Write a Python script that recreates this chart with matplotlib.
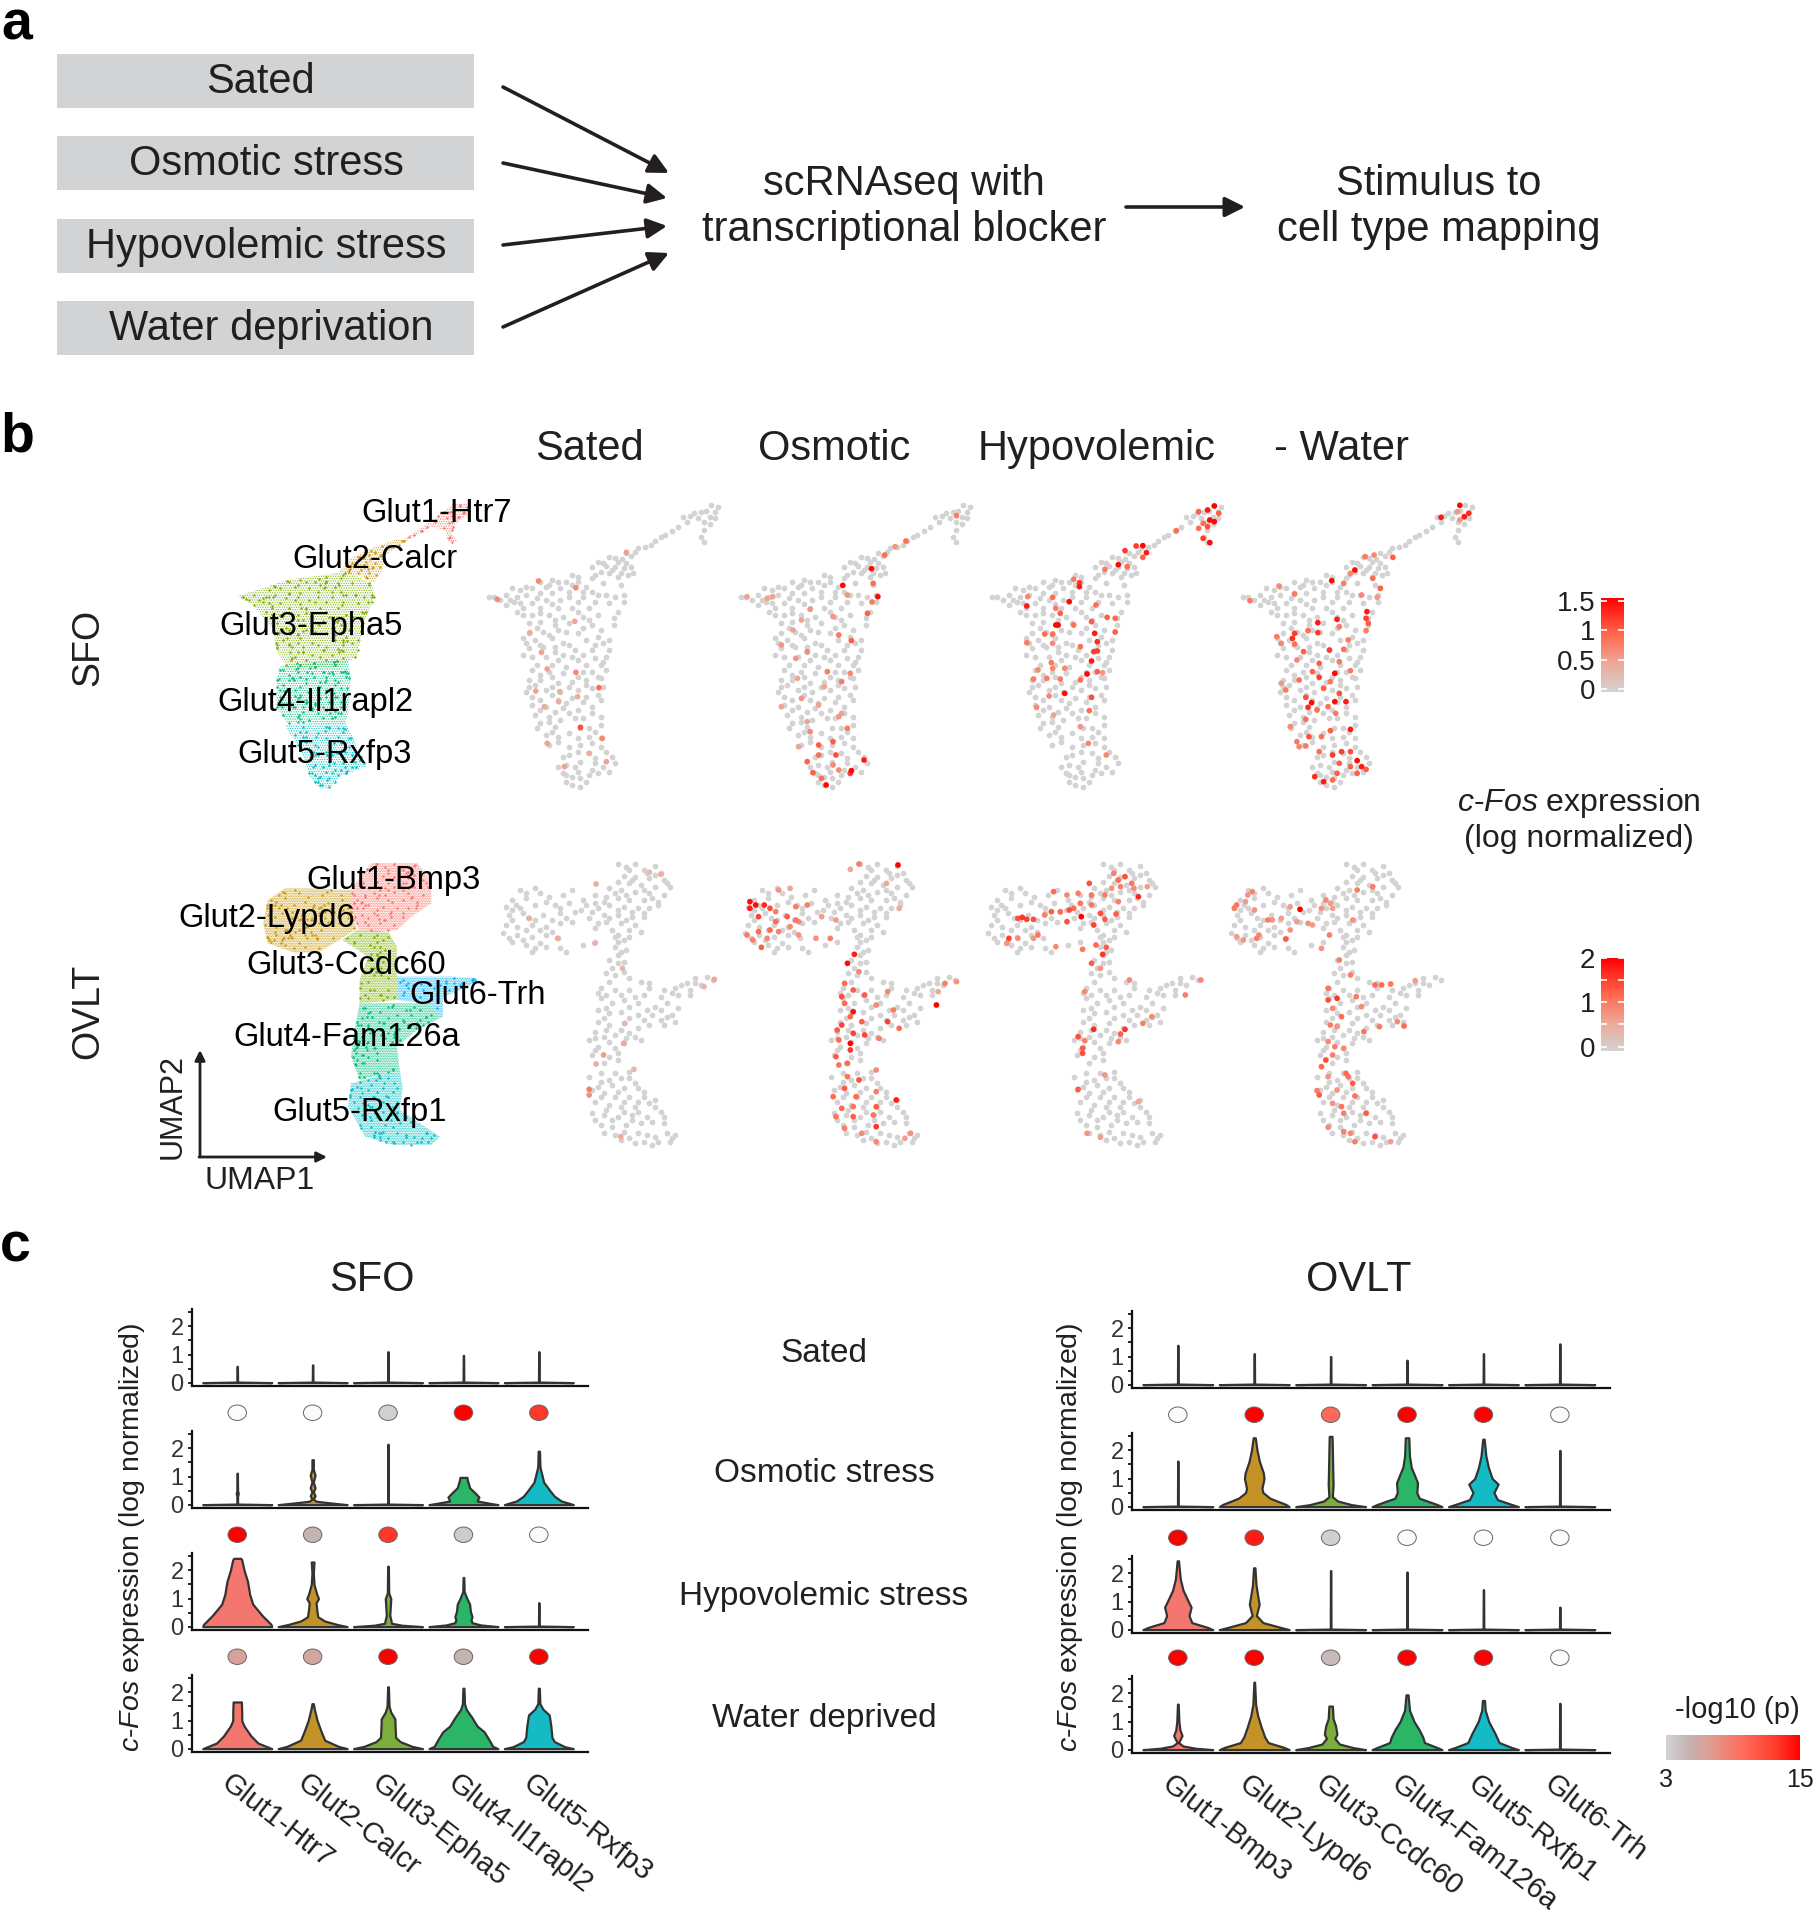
import numpy as np
import matplotlib
matplotlib.use('Agg')
from matplotlib import pyplot as plt
from matplotlib.cm import ScalarMappable
from matplotlib.colors import LinearSegmentedColormap, Normalize
from matplotlib.patches import Ellipse, Polygon, Rectangle
from matplotlib.path import Path

plt.rcParams['font.family'] = 'Liberation Sans'
plt.rcParams['mathtext.fontset'] = 'custom'
plt.rcParams['mathtext.it'] = 'Liberation Sans:italic'
plt.rcParams['mathtext.rm'] = 'Liberation Sans'
plt.rcParams['hatch.linewidth'] = 0.45

W, H = 1816, 1920
TXT = '#231f20'
FOS = '$\\mathit{c}$-$\\mathit{Fos}$'

# panel a
stimuli = ['Sated', 'Osmotic stress', 'Hypovolemic stress', 'Water deprivation']
stimulus_y = [54, 136, 219, 301]

# panel b, cluster names
sfo_clusters = ['Glut1-Htr7', 'Glut2-Calcr', 'Glut3-Epha5', 'Glut4-Il1rapl2', 'Glut5-Rxfp3']
ovlt_clusters = ['Glut1-Bmp3', 'Glut2-Lypd6', 'Glut3-Ccdc60', 'Glut4-Fam126a', 'Glut5-Rxfp1', 'Glut6-Trh']
cluster_colors = ['#f8766d', '#c99a10', '#7cae00', '#00bf7d', '#00bfc4', '#00b0f6']
violin_colors = ['#f4776f', '#c49327', '#7cae3c', '#2bb567', '#14bbc5', '#00b0f6']

# cluster outlines
sfo_outline = [
    [(440,180),(470,145),(500,110),(530,70),(555,72),(555,100),(535,130),(525,160),(537,187),(518,185),(515,150),(490,140),(455,175)],
    [(330,275),(345,240),(385,205),(430,178),(450,180),(410,225),(405,270),(390,310),(370,290)],
    [(152,348),(240,300),(320,280),(345,275),(385,310),(392,345),(375,420),(360,530),(330,560),(240,565),(220,510),(215,450),(180,375)],
    [(225,560),(290,545),(345,540),(350,590),(345,700),(340,730),(240,730),(220,680),(222,600)],
    [(235,735),(340,725),(355,780),(375,860),(330,890),(315,925),(295,925),(278,890),(265,820)],
]
ovlt_outline = [
    [(385,150),(420,70),(500,70),(525,120),(525,190),(490,230),(465,270),(430,275),(400,270),(385,220)],
    [(240,180),(270,145),(310,145),(385,150),(385,220),(395,265),(365,300),(330,335),(290,340),(240,310),(232,250)],
    [(370,300),(395,270),(450,275),(465,320),(465,400),(465,480),(400,490),(400,420),(415,350)],
    [(400,490),(520,490),(545,530),(500,570),(465,620),(470,690),(400,720),(385,650),(390,580)],
    [(385,730),(470,690),(475,740),(470,810),(540,890),(525,915),(460,915),(410,890),(380,800)],
    [(465,410),(560,410),(605,415),(590,440),(545,470),(545,530),(520,490),(465,480)],
]

# cells, in the Sated panel's frame
sfo_cells = [
    (978,75),(990,80),(968,92),(985,95),(948,100),(940,108),(975,110),(928,112),(985,115),(965,125),(975,132),(920,140),
    (910,152),(965,150),(898,165),(960,172),(965,185),(880,182),(872,195),(850,205),(830,220),(838,228),(800,232),(780,245),
    (815,245),(830,250),(770,262),(795,258),(810,262),(825,265),(838,262),(785,275),(800,280),(820,280),(832,285),(842,278),
    (700,300),(735,285),(745,290),(725,305),(745,305),(770,295),(680,305),(655,320),(630,325),(645,330),(665,325),(690,320),
    (715,325),(760,320),(790,310),(820,315),(600,350),(620,345),(640,350),(655,345),(680,340),(700,340),(730,335),(770,335),
    (780,345),(825,345),(810,350),(590,352),(635,365),(665,370),(690,360),(715,360),(745,365),(775,365),(800,370),(825,365),
    (620,375),(650,385),(680,385),(710,385),(735,385),(765,385),(815,395),(640,395),(665,405),(695,405),(720,410),(755,410),
    (808,415),(660,430),(680,425),(705,435),(730,430),(770,435),(808,435),(660,460),(685,455),(710,450),(745,460),(780,470),
    (650,475),(670,480),(700,475),(720,490),(760,480),(790,490),(800,480),(660,505),(685,500),(705,500),(740,510),(770,510),
    (800,510),(665,530),(690,530),(720,525),(745,540),(775,535),(795,530),(675,555),(700,555),(725,560),(760,555),(785,555),
    (695,575),(720,580),(745,590),(770,575),(795,570),(660,600),(680,600),(710,610),(735,605),(760,600),(785,595),(660,620),
    (690,630),(715,635),(745,630),(770,625),(790,620),(665,650),(680,660),(710,660),(735,655),(760,650),(780,645),(665,675),
    (690,680),(720,685),(745,690),(770,680),(670,705),(695,710),(730,700),(755,715),(785,710),(680,730),(705,740),(730,760),
    (750,745),(785,735),(690,765),(710,770),(765,770),(785,775),(695,795),(730,800),(770,790),(745,815),(720,830),(765,820),
    (795,815),(805,830),(725,855),(750,845),(775,850),(810,850),(720,880),(745,875),(770,870),(800,875),(725,905),(750,895),
    (750,920),(735,915),(765,885),
    (960,95),(955,115),(935,125),(890,172),(862,200),(845,215),(810,235),(822,238),(790,250),(805,270),(775,285),(815,292),
    (695,315),(710,305),(735,315),(755,335),(610,360),(628,360),(645,368),(675,355),(700,372),(730,350),(755,350),(795,345),
    (650,405),(680,400),(705,420),(745,395),(780,405),(765,420),(675,445),(695,465),(725,455),(755,445),(785,450),(680,495),
    (730,495),(775,495),(655,490),(650,525),(705,515),(755,525),(790,545),(665,570),(710,540),(735,530),(780,590),(700,590),
    (755,575),(680,585),(670,615),(700,620),(730,620),(760,615),(655,635),(700,645),(725,670),(755,665),(785,660),(680,690),
    (705,695),(740,715),(770,700),(695,725),(715,720),(765,745),(675,745),(700,755),(745,775),(775,755),(710,785),(750,795),
    (785,800),(730,825),(775,835),(740,860),(790,860),(710,860),(735,890),(780,880),(760,905),(725,885),
]
ovlt_cells = [
    (850,72),(880,72),(915,78),(870,90),(895,90),(925,100),(860,108),(880,110),(905,115),(930,120),(940,140),(850,125),
    (870,130),(890,135),(915,140),(835,145),(855,150),(880,155),(905,160),(930,165),(810,165),(830,170),(850,175),(870,180),
    (895,180),(920,185),(790,180),(810,190),(835,195),(860,200),(885,205),(905,205),(785,210),(805,215),(825,225),(850,225),
    (875,230),(895,230),(800,235),(830,245),(855,250),(880,255),(840,270),(870,270),(890,275),(810,265),(680,150),(705,145),
    (715,160),(665,180),(690,175),(730,170),(755,165),(770,150),(655,200),(680,205),(705,195),(740,195),(765,190),(660,225),
    (695,235),(720,225),(750,220),(775,215),(655,255),(675,260),(700,255),(725,260),(750,250),(770,245),(650,280),(675,285),
    (700,290),(725,285),(745,295),(665,305),(690,315),(715,310),(700,335),(760,335),(790,315),(810,305),(850,285),(860,300),
    (845,320),(865,330),(850,345),(835,360),(860,365),(840,385),(860,395),(830,400),(870,415),(890,425),(905,430),(835,425),
    (820,445),(845,450),(870,450),(895,465),(925,470),(950,445),(970,430),(985,415),(1005,410),(1015,420),(995,435),(975,450),
    (955,465),(935,490),(820,475),(840,490),(860,480),(885,490),(915,500),(955,505),(815,510),(835,520),(855,515),(885,525),
    (910,525),(935,530),(950,545),(930,555),(815,545),(835,555),(860,550),(885,565),(905,555),(810,575),(825,590),(845,585),
    (870,580),(890,600),(800,600),(815,620),(845,625),(860,610),(805,645),(835,650),(825,670),(850,660),(870,695),(855,715),
    (880,730),(800,710),(820,725),(840,735),(860,745),(885,745),(805,750),(825,760),(845,770),(870,770),(895,770),(915,780),
    (810,785),(835,795),(855,800),(880,800),(905,790),(925,815),(805,820),(825,825),(850,830),(875,825),(900,830),(930,830),
    (820,855),(840,860),(865,855),(890,850),(825,880),(845,885),(870,895),(895,905),(920,905),(945,895),(935,880),(950,885),
    (910,915),(880,910),
    (865,80),(900,100),(915,105),(935,130),(875,120),(895,150),(845,160),(865,165),(910,175),(825,185),(850,210),(875,215),
    (895,220),(920,195),(815,205),(795,195),(835,235),(865,240),(815,250),(845,290),(870,290),(690,160),(672,195),(725,185),
    (750,205),(665,210),(685,220),(705,240),(735,240),(760,235),(665,240),(690,270),(715,270),(735,275),(660,295),(685,300),
    (705,325),(725,320),(750,325),(850,305),(855,335),(850,370),(845,405),(815,460),(830,465),(855,465),(880,470),(905,445),
    (930,450),(960,435),(985,430),(975,465),(945,460),(830,505),(870,500),(900,510),(925,510),(945,525),(825,535),(870,535),
    (895,540),(925,540),(830,570),(855,570),(880,590),(865,595),(810,595),(835,605),(810,630),(850,640),(820,700),(845,700),
    (870,715),(835,720),(895,755),(815,740),(850,755),(820,770),(860,785),(885,785),(830,810),(860,815),(885,815),(915,800),
    (810,840),(840,840),(875,840),(910,845),(930,850),(860,875),(885,880),(915,890),(940,905),(855,900),(900,885),
]

# cells with c-Fos signal: x, y, log normalized expression
sfo_sated = [
    (677,303,.7),(742,323,.7),(605,358,.7),(740,424,.5),(662,458,.4),(682,517,.5),(692,567,.5),(742,577,.7),(782,623,.9),
    (672,633,.5),(714,635,.4),(750,742,1.1),(788,775,.7),(692,790,.5),(765,820,.4),(722,860,.5),(795,845,.5),(687,680,.4),
    (830,217,.5),(745,650,.4),(712,665,.4),
]
sfo_osmotic = [
    (1257,266,1.5),(1207,316,1.5),(1268,350,1.5),(1244,840,1.4),(1222,872,1.5),(1178,915,1.5),(1405,107,.8),(1317,183,.9),
    (1298,200,.6),(1280,225,.9),(1260,310,.9),(1258,366,.8),(1250,400,1),(1222,482,1),(1200,465,.8),(1215,345,.6),(1150,388,.6),
    (1135,420,.5),(1120,450,.5),(1190,410,.6),(1100,495,.6),(1145,515,.7),(1125,535,.6),(1180,575,.8),(1205,605,.8),(1220,580,.7),
    (1128,595,.5),(1175,620,.5),(1135,655,.6),(1165,675,.5),(1200,710,.6),(1145,725,.5),(1215,745,.8),(1150,755,.7),(1165,795,1),
    (1190,785,1),(1165,825,.9),(1195,825,1.1),(1145,845,1),(1190,855,.7),(1155,878,1),(1220,880,1.2),(1170,895,.9),(1200,870,.7),
    (1130,800,.5),(1085,350,.5),(1040,350,.5),(1075,355,.5),(1100,680,.5),(1205,700,.5),
]
sfo_hypo = [
    (480,78,1.55),(465,90,1.4),(445,95,1),(490,100,1),(470,120,1.5),(480,125,1.5),(455,130,.9),(465,140,1.1),(445,145,.9),
    (455,175,1.2),(470,188,1.5),(395,152,.9),(320,197,1.5),(305,198,1.2),(328,218,1.4),(280,212,1.2),(320,232,1),(265,254,1.5),
    (285,260,.9),(235,268,.8),(178,308,1.2),(178,320,1.4),(165,298,.8),(155,365,1.5),(118,352,.9),(125,385,.8),(135,400,1),
    (125,435,1.5),(130,435,1.5),(165,435,.9),(205,425,1),(240,412,1),(258,415,.9),(258,456,1),(212,460,1.4),(218,485,1.3),
    (100,462,.9),(118,462,.9),(60,488,.8),(118,490,.7),(180,500,.9),(210,515,1.2),(218,513,1.2),(205,543,1.4),(115,548,.8),
    (85,570,.7),(118,565,.7),(145,565,.7),(195,582,1.5),(218,575,1),(230,578,.6),(75,597,.8),(105,595,.8),(135,597,.8),
    (180,600,.9),(205,652,1.1),(145,640,1.5),(110,648,.7),(82,682,.7),(120,705,.5),(200,692,.9),(180,740,.6),(198,790,.7),
    (238,825,.7),(60,378,1.4),(62,350,.7),(215,375,.9),
]
sfo_water = [
    (1030,76,1.5),(1050,100,1.3),(1040,110,1.4),(1025,95,.6),(988,112,1.4),(1030,120,.6),(880,232,1),(838,225,.7),(818,230,.8),
    (795,270,1.5),(785,280,.7),(835,295,.9),(743,302,1.5),(852,325,1),(770,310,.8),(810,345,.7),(845,352,.6),(660,342,.8),
    (625,318,.7),(560,362,.8),(822,395,1.4),(820,415,1.2),(755,418,1.4),(712,428,1.4),(825,430,1),(712,458,1.2),(660,460,1.2),
    (655,475,1.3),(620,470,.8),(690,452,.9),(760,440,.8),(820,452,.8),(780,480,.8),(630,490,.7),(660,492,.9),(680,515,1),
    (738,510,1.2),(770,508,.9),(715,550,1),(760,545,.8),(665,540,.7),(750,580,1.5),(700,575,1),(785,572,.8),(670,600,.9),
    (715,592,1.2),(740,605,.8),(630,610,.6),(725,625,1),(760,640,1.1),(685,652,1.1),(750,665,1.5),(775,665,1.4),(698,668,1.5),
    (735,680,.9),(690,682,1.3),(710,690,.9),(752,700,.8),(640,630,.8),(685,718,.9),(650,740,.7),(785,748,1.4),(740,752,1),
    (692,770,1.1),(665,785,.8),(720,770,.9),(685,798,.8),(715,815,.9),(745,825,1.2),(765,815,1.2),(785,815,1.1),(800,842,1.5),
    (760,850,1),(785,860,1),(810,860,1.4),(820,868,1),(755,880,1),(800,880,1),(705,890,1.3),(725,905,1.4),(745,900,.9),(670,800,.7),
]
ovlt_sated = [
    (925,103,.5),(905,97,.3),(812,132,.5),(695,235,.5),(745,295,.6),(810,310,.4),(858,385,.4),(1018,418,.6),(862,550,.4),
    (860,610,.6),(825,645,.7),(812,672,.5),(878,688,.4),(800,748,1),(800,765,.8),(855,890,.6),(1000,440,.4),
]
ovlt_osmotic = [
    (1080,185,1.9),(1090,195,1.9),(1080,205,1.8),(1105,195,1.7),(1115,205,1.4),(1095,230,1.5),(1130,150,.8),(1150,145,.6),
    (1145,230,1.3),(1160,240,1.1),(1125,215,1),(1160,200,1),(1180,195,1),(1125,245,1.2),(1115,270,1.2),(1095,275,1.2),(1075,285,1),
    (1085,300,1),(1100,322,1.3),(1130,275,1),(1150,260,.9),(1165,245,.9),(1110,295,.9),(1165,285,.8),(1205,230,.7),(1230,240,.7),
    (1195,295,.8),(1220,295,1),(1338,75,2),(1270,72,1),(1255,88,.6),(1318,130,.6),(1340,205,.5),(1250,370,1.9),(1262,343,1.8),
    (1270,395,.9),(1245,430,1.2),(1260,450,1.3),(1280,465,1.3),(1240,470,1.4),(1260,515,1.9),(1245,490,1.2),(1255,530,1.2),
    (1240,555,1.5),(1275,545,1.3),(1320,455,.9),(1300,495,.9),(1330,510,1),(1320,545,1.5),(1340,565,1.2),(1280,585,1.5),
    (1255,610,2),(1235,600,1.2),(1305,595,1),(1405,495,2),(1440,425,.8),(1420,430,1),(1408,455,.6),(1260,580,1.5),(1232,570,1.3),
    (1230,650,1.3),(1255,630,1.6),(1250,670,1.2),(1235,675,1.1),(1250,710,1.1),(1270,720,1.4),(1300,690,.9),(1245,745,1.3),
    (1225,770,1.2),(1265,770,1.2),(1300,755,1),(1335,780,1.8),(1240,805,1.2),(1260,800,1.1),(1300,800,1.3),(1230,830,1.1),
    (1260,830,1.3),(1295,825,1.1),(1245,865,1),(1300,860,1.6),(1275,880,.9),(1300,905,.9),(1360,880,.8),(1350,895,.7),
]
ovlt_hypo = [
    (255,100,1),(280,110,1.4),(265,120,1.2),(295,130,1.1),(300,145,.9),(250,145,.8),(270,140,1),(330,140,.7),(120,155,1.2),
    (200,130,1.4),(150,165,.9),(175,160,1),(205,165,1.1),(235,165,1),(265,185,1),(310,170,1.7),(180,190,1.1),(155,210,1.4),
    (135,215,1.2),(100,225,1),(115,215,1.3),(50,232,1.6),(60,238,1.5),(75,238,1.4),(40,235,1.4),(182,230,2),(165,205,1.2),
    (205,195,1.1),(225,220,1.4),(235,238,1.3),(260,222,1.3),(150,245,1.4),(210,255,1.5),(20,295,1.5),(15,310,.8),(40,295,.9),
    (85,285,1.1),(75,295,.8),(125,320,.9),(185,328,1.1),(215,315,1.2),(238,322,1.3),(230,343,1.6),(205,370,1.3),(225,385,.8),
    (290,420,.9),(190,455,.9),(210,568,1.7),(175,590,1.4),(190,602,1),(185,625,1.3),(185,640,1.4),(280,568,1.6),(270,582,1.3),
    (265,605,.9),(320,550,1),(340,530,.9),(175,748,1.3),(235,705,.8),(225,892,.7),(195,880,.8),(310,785,.6),(415,465,1),(450,420,.9),
]
ovlt_water = [
    (565,155,.9),(555,165,.8),(530,195,1.1),(525,205,1),(550,185,.7),(570,210,.8),(672,208,2),(650,200,.7),(600,240,1),(610,240,.8),
    (630,235,.7),(580,285,.9),(575,295,1),(640,297,1.3),(650,270,.8),(530,290,.7),(545,300,.8),(665,245,.7),(690,250,.8),(730,180,.9),
    (740,190,.7),(720,205,.8),(745,205,.7),(700,255,.7),(800,150,1),(835,140,1),(790,240,.8),(738,285,1),(720,325,.8),(760,360,1),
    (785,405,1),(840,435,1.2),(855,435,1.2),(875,432,1.1),(930,422,.7),(735,445,1.1),(735,480,1.4),(755,475,1.6),(745,505,.9),
    (798,470,1),(765,530,1.2),(810,500,.9),(740,555,1),(755,560,.8),(815,575,1.1),(850,560,1),(890,545,.9),(905,558,1.2),(735,605,.9),
    (750,620,1),(770,625,.9),(730,660,1.4),(720,680,1.2),(745,645,1),(735,710,.8),(780,710,1.1),(790,730,1.3),(775,700,1.2),(710,752,1),
    (715,765,1.3),(755,750,.8),(795,768,1.1),(745,790,.8),(765,800,1.1),(770,820,1),(820,820,1.3),(735,862,.9),(770,875,1),(785,880,.9),
    (795,905,1),(840,890,1.4),(875,905,.7),
]

# panel c, -log10(p) above each violin (no dot for sated)
sfo_pvals = [[1, 1, 3.2, 15, 13], [15, 5, 13, 3.5, 1], [6.5, 6, 15, 5, 15]]
ovlt_pvals = [[1, 15, 10, 15, 15, 1], [15, 14, 3.2, 1, 1, 1], [15, 15, 4.5, 15, 15, 1]]

# violin outlines: (expression, relative half width)
sfo_violins = [
    [[(0,1),(.02,.01),(.58,.005)], [(0,1),(.02,.01),(.63,.005)], [(0,1),(.02,.01),(1.1,.005)], [(0,1),(.02,.01),(.97,.005)], [(0,1),(.02,.01),(1.1,.005)]],
    [[(0,1),(.02,.01),(.3,.01),(.4,.03),(.5,.01),(1.12,.005)],
     [(0,1),(.05,.6),(.12,.1),(.2,.02),(.32,.07),(.45,.02),(.6,.07),(.8,.02),(1.05,.07),(1.25,.02),(1.6,.02)],
     [(0,1),(.02,.01),(2.15,.005)],
     [(0,1),(.05,.75),(.13,.4),(.2,.42),(.27,.45),(.4,.35),(.6,.18),(.85,.12),(.97,.1)],
     [(0,1),(.04,.9),(.13,.65),(.3,.45),(.5,.32),(.8,.14),(1.1,.08),(1.3,.04),(1.4,.03),(1.9,.02)]],
    [[(0,1),(.08,.98),(.4,.72),(.8,.45),(1.15,.36),(1.6,.3),(2.0,.2),(2.38,.13),(2.43,.1)],
     [(0,1),(.08,.7),(.2,.35),(.35,.15),(.6,.12),(.85,.1),(1,.17),(1.15,.12),(1.5,.04),(1.9,.02),(2.3,.04)],
     [(0,1),(.05,.4),(.12,.1),(.25,.08),(.4,.05),(.8,.07),(1,.08),(1.2,.02),(2.15,.01)],
     [(0,1),(.06,.5),(.14,.25),(.25,.22),(.35,.25),(.55,.2),(.8,.18),(1,.1),(1.25,.02),(1.75,.01)],
     [(0,1),(.02,.01),(.85,.005)]],
    [[(0,1),(.05,.9),(.2,.6),(.45,.4),(.8,.2),(1,.13),(1.1,.13),(1.3,.13),(1.66,.12)],
     [(0,1),(.08,.75),(.3,.35),(.6,.25),(1,.13),(1.4,.05),(1.6,.02)],
     [(0,1),(.08,.7),(.25,.35),(.4,.22),(.9,.2),(1.05,.2),(1.3,.08),(1.5,.03),(2.2,.01)],
     [(0,1),(.08,.85),(.3,.75),(.6,.6),(.8,.4),(1.1,.25),(1.4,.08),(1.6,.03),(2.15,.015)],
     [(0,1),(.07,.75),(.25,.45),(.4,.38),(.8,.35),(1.2,.3),(1.4,.12),(1.6,.03),(2.15,.015)]],
]
ovlt_violins = [
    [[(0,1),(.02,.01),(1.4,.005)], [(0,1),(.02,.01),(1.1,.005)], [(0,1),(.02,.01),(1.0,.005)], [(0,1),(.02,.01),(.87,.005)], [(0,1),(.02,.01),(1.1,.005)], [(0,1),(.02,.01),(1.45,.005)]],
    [[(0,1),(.02,.01),(1.62,.005)],
     [(0,1),(.08,.9),(.3,.45),(.5,.25),(.65,.22),(1,.28),(1.2,.26),(1.6,.15),(2,.08),(2.45,.03)],
     [(0,1),(.07,.6),(.2,.2),(.35,.05),(.8,.07),(1.3,.06),(2,.05),(2.5,.04)],
     [(0,1),(.08,.85),(.3,.35),(.5,.28),(.85,.3),(1.1,.22),(1.4,.12),(1.8,.07),(2.45,.05)],
     [(0,1),(.08,.8),(.25,.4),(.5,.3),(.8,.42),(1,.25),(1.4,.14),(1.8,.07),(2.4,.02)],
     [(0,1),(.02,.01),(2.0,.005)]],
    [[(0,1),(.08,.85),(.25,.4),(.5,.32),(.8,.38),(1.0,.3),(1.4,.15),(1.8,.07),(2.45,.02)],
     [(0,1),(.08,.75),(.25,.25),(.5,.06),(.9,.14),(1.2,.1),(1.6,.05),(2.2,.02)],
     [(0,1),(.02,.01),(2.1,.005)], [(0,1),(.02,.01),(2.05,.005)], [(0,1),(.02,.01),(1.42,.005)], [(0,1),(.02,.01),(.8,.005)]],
    [[(0,1),(.05,.5),(.13,.15),(.25,.02),(.5,.12),(.7,.06),(1,.03),(1.62,.01)],
     [(0,1),(.08,.85),(.25,.4),(.45,.3),(.8,.2),(1.2,.1),(1.6,.04),(2.4,.01)],
     [(0,1),(.07,.65),(.2,.25),(.4,.12),(.55,.18),(.85,.14),(1.1,.07),(1.55,.05)],
     [(0,1),(.08,.85),(.25,.5),(.45,.45),(.7,.35),(1.0,.2),(1.4,.07),(1.95,.03)],
     [(0,1),(.08,.8),(.25,.45),(.6,.32),(1,.15),(1.4,.05),(1.75,.03)],
     [(0,1),(.02,.01),(1.65,.005)]],
]

row_names = ['Sated', 'Osmotic stress', 'Hypovolemic stress', 'Water deprived']

expr_cmap = LinearSegmentedColormap.from_list('expr', [(0, '#d3d3d3'), (.3, '#eda898'), (.6, '#ff6a50'), (1, '#ff0000')])
p_cmap = LinearSegmentedColormap.from_list('pval', [(0, '#d2d2d2'), (.17, '#c4b2b2'), (.33, '#df9d92'), (.58, '#ff6a5a'), (.83, '#ff3a2a'), (1, '#ff0000')])
p_norm = Normalize(3, 15)


def add_px_axes(x, y, w, h):
    return fig.add_axes([x / W, 1 - (y + h) / H, w / W, h / H])


def crop_axes(x, y, w, h):
    # limits follow the reading grid used for the UMAP coordinates
    ax = add_px_axes(x, y, w, h)
    ax.set_xlim(0, 1568)
    ax.set_ylim(1020, 0)
    ax.axis('off')
    ax.patch.set_alpha(0)
    return ax


def draw_cells(ax, pts, vmax):
    pts = np.array(pts)
    order = np.argsort(pts[:, 2])
    ax.scatter(pts[order, 0], pts[order, 1], c=pts[order, 2], cmap=expr_cmap, vmin=0, vmax=vmax, s=17, linewidths=0, zorder=3)


def draw_grey(ax, pts):
    pts = np.array(pts)
    ax.scatter(pts[:, 0], pts[:, 1], c='#d3d3d3', s=17, linewidths=0, zorder=2)


def draw_clusters(ax, outlines, cells, fill_alpha, hatch):
    cells = np.array(cells)
    for poly, col in zip(outlines, cluster_colors):
        ax.add_patch(Polygon(poly, closed=True, facecolor=col, alpha=fill_alpha, lw=0))
        ax.add_patch(Polygon(poly, closed=True, facecolor='none', edgecolor=col, hatch=hatch, lw=0))
        inside = Path(poly).contains_points(cells)
        ax.scatter(cells[inside, 0], cells[inside, 1], c=col, s=3, linewidths=0)


def draw_expr_bar(x, y, w, h, vmin, vmax, ticks, labels, minor):
    cax = add_px_axes(x, y, w, h)
    cb = fig.colorbar(ScalarMappable(Normalize(vmin, vmax), expr_cmap), cax=cax)
    cb.outline.set_visible(False)
    cb.set_ticks(ticks)
    cb.set_ticklabels(labels)
    cax.yaxis.set_ticks_position('left')
    cax.tick_params(axis='y', left=True, right=True, direction='in', length=4, width=1.2, color='white', labelsize=20, pad=4, labelcolor=TXT)
    if minor:
        cax.set_yticks(minor, minor=True)
        cax.tick_params(axis='y', which='minor', left=True, right=True, direction='in', length=4, width=1.2, color='white')


def draw_violin_block(left, right, rows_base, violins, pvals, names, ylabel_x):
    n = len(names)
    step = 75.4 if n == 5 else 76.4
    xmax = -.6 + (right - left) / step
    for r, base in enumerate(rows_base):
        ax = add_px_axes(left, base - 77, right - left, 77)
        ax.patch.set_alpha(0)
        ax.set_xlim(-.6, xmax)
        ax.set_ylim(-.12, 2.62)
        for i, prof in enumerate(violins[r]):
            prof = np.array(prof)
            ax.fill_betweenx(prof[:, 0], i - prof[:, 1] * .457, i + prof[:, 1] * .457, facecolor=violin_colors[i],
                             edgecolor='#333333', lw=1.6, joinstyle='round', clip_on=False)
        for s in ['top', 'right']:
            ax.spines[s].set_visible(False)
        for s in ['left', 'bottom']:
            ax.spines[s].set_linewidth(1.6)
            ax.spines[s].set_color('#111111')
        ax.set_yticks([0, 1, 2])
        ax.set_yticklabels(['0', '1', '2'], fontsize=17, color='#333333')
        ax.set_yticks([.5, 1.5, 2.5], minor=True)
        ax.tick_params(axis='y', which='both', length=3, width=1.2, pad=3)
        ax.set_xticks([])
        if r > 0:
            for i, val in enumerate(pvals[r - 1]):
                fc = p_cmap(p_norm(val)) if val >= 3 else '#fbfbfb'
                ax.add_patch(Ellipse((i, 3.27), 18.5 / step, .55, facecolor=fc, edgecolor='#666666', lw=.7, clip_on=False))
        if r == len(rows_base) - 1:
            for i, name in enumerate(names):
                ax.annotate(name, xy=(i, 0), xycoords=('data', 'axes fraction'), xytext=(-9, -20), textcoords='offset points',
                            rotation=-38, ha='left', va='center', rotation_mode='anchor', fontsize=21, color=TXT, annotation_clip=False)
    canvas.text(ylabel_x, 1537, FOS + ' expression (log normalized)', rotation=90, ha='center', va='center', fontsize=20.5, color=TXT)


fig = plt.figure(figsize=(W / 100, H / 100), dpi=100, facecolor='white')

# canvas in pixels for text, boxes and arrows
canvas = add_px_axes(0, 0, W, H)
canvas.set_xlim(0, W)
canvas.set_ylim(H, 0)
canvas.axis('off')
canvas.patch.set_alpha(0)
canvas.set_zorder(10)

for lab, x, y in [('a', 1, 26), ('b', 0, 438), ('c', 0, 1247)]:
    canvas.text(x, y, lab, fontsize=40, fontweight='bold', ha='left', va='center', color='black')

# panel a
text_x = [260, 266, 266, 271]
for name, y, tx in zip(stimuli, stimulus_y, text_x):
    canvas.add_patch(Rectangle((57, y), 417, 54, facecolor='#d1d3d4', lw=0))
    canvas.text(tx, y + 28, name, fontsize=30, ha='center', va='center', color=TXT)
arrow_kw = dict(arrowstyle='-|>', color='#231f20', lw=2.6, mutation_scale=30, shrinkA=0, shrinkB=0)
for start, end in [((503, 87), (669, 173)), ((503, 163), (667, 198)), ((503, 245), (667, 226)), ((503, 327), (669, 253)), ((1126, 207), (1245, 207))]:
    canvas.annotate('', xy=end, xytext=start, arrowprops=arrow_kw)
canvas.text(904, 207, 'scRNAseq with\ntranscriptional blocker', fontsize=30, ha='center', va='center', color=TXT, linespacing=1.22)
canvas.text(1439, 207, 'Stimulus to\ncell type mapping', fontsize=30, ha='center', va='center', color=TXT, linespacing=1.22)

# panel b titles
for name, x in zip(['Sated', 'Osmotic', 'Hypovolemic', '- Water'], [589, 834, 1097, 1341]):
    canvas.text(x, 449, name, fontsize=30, ha='center', va='center', color=TXT)
canvas.text(88, 647, 'SFO', rotation=90, fontsize=27, ha='center', va='center', color=TXT)
canvas.text(88, 1011, 'OVLT', rotation=90, fontsize=27, ha='center', va='center', color=TXT)

# SFO row
sfo_shift = [0, 252, 503, 754]
for dx in sfo_shift:
    draw_grey(crop_axes(150 + dx, 480, 900, 340), sfo_cells)
crop1 = crop_axes(150, 480, 900, 340)
crop1.set_zorder(3)
draw_cells(crop1, sfo_sated, 1.55)
draw_cells(crop1, sfo_osmotic, 1.55)
crop5 = crop_axes(1000, 480, 700, 340)
crop5.set_zorder(3)
draw_cells(crop5, sfo_hypo, 1.55)
draw_cells(crop5, sfo_water, 1.55)
# cluster panel shows every cell, in the frame of the cluster outlines
sfo_all = [(x - 438, y) for x, y in sfo_cells] + [(x - 438, y) for x, y, _ in sfo_sated] + [(x - 878, y) for x, y, _ in sfo_osmotic]
sfo_all += [((850 + x / 2.24 - 503) * 1.742 - 438, y) for x, y, _ in sfo_hypo]
sfo_all += [((850 + x / 2.24 - 754) * 1.742 - 438, y) for x, y, _ in sfo_water]
draw_clusters(crop1, sfo_outline, sfo_all, .04, '.......')

# OVLT row
ovlt_shift = [0, 242, 485, 728]
for dx in ovlt_shift:
    draw_grey(crop_axes(130 + dx, 840, 900, 340), ovlt_cells)
crop2 = crop_axes(130, 840, 900, 340)
crop2.set_zorder(3)
draw_cells(crop2, ovlt_sated, 2)
draw_cells(crop2, ovlt_osmotic, 2)
crop6 = crop_axes(1000, 840, 700, 340)
crop6.set_zorder(3)
draw_cells(crop6, ovlt_hypo, 2)
draw_cells(crop6, ovlt_water, 2)
ovlt_all = [(x - 420, y) for x, y in ovlt_cells] + [(x - 420, y) for x, y, _ in ovlt_sated] + [(x - 842, y) for x, y, _ in ovlt_osmotic]
ovlt_all += [((870 + x / 2.24 - 485) * 1.742 - 420, y) for x, y, _ in ovlt_hypo]
ovlt_all += [((870 + x / 2.24 - 728) * 1.742 - 420, y) for x, y, _ in ovlt_water]
draw_clusters(crop2, ovlt_outline, ovlt_all, .12, '..........')

# cluster labels
for name, x, y in zip(sfo_clusters, [437, 375, 311, 315, 325], [514, 559, 627, 702, 755]):
    canvas.text(x, y, name, fontsize=23.5, ha='center', va='center', color='black')
for name, x, y in zip(ovlt_clusters, [393, 267, 346, 347, 360, 478], [880, 918, 966, 1037, 1112, 995]):
    canvas.text(x, y, name, fontsize=23.5, ha='center', va='center', color='black')

# UMAP axes arrows
umap_kw = dict(arrowstyle='-|>', color='#231f20', lw=2, mutation_scale=15, shrinkA=0, shrinkB=0)
canvas.annotate('', xy=(200, 1050), xytext=(200, 1157), arrowprops=umap_kw)
canvas.annotate('', xy=(327, 1157), xytext=(199, 1157), arrowprops=umap_kw)
canvas.text(173, 1107, 'UMAP2', rotation=90, fontsize=22, ha='center', va='center', color=TXT)
canvas.text(260, 1181, 'UMAP1', fontsize=23, ha='center', va='center', color=TXT)

# expression colour bars
draw_expr_bar(1601, 598, 23, 94, -.05, 1.55, [0, .5, 1, 1.5], ['0', '0.5', '1', '1.5'], None)
draw_expr_bar(1601, 958, 23, 93, -.1, 2, [0, 1, 2], ['0', '1', '2'], [.5, 1.5])
canvas.text(1579, 820, FOS + ' expression\n(log normalized)', fontsize=23, ha='center', va='center', color=TXT, linespacing=1.2)

# panel c
canvas.text(372, 1280, 'SFO', fontsize=30, ha='center', va='center', color=TXT)
canvas.text(1359, 1280, 'OVLT', fontsize=30, ha='center', va='center', color=TXT)
for name, y in zip(row_names, [1353, 1474, 1596, 1718]):
    canvas.text(824, y, name, fontsize=24, ha='center', va='center', color=TXT)
draw_violin_block(192, 588, [1386, 1508, 1630, 1752], sfo_violins, sfo_pvals, sfo_clusters, 132)
draw_violin_block(1132, 1610, [1388, 1510, 1633, 1753], ovlt_violins, ovlt_pvals, ovlt_clusters, 1070)

# -log10(p) legend
pax = add_px_axes(1666, 1735, 134, 25)
pb = fig.colorbar(ScalarMappable(p_norm, p_cmap), cax=pax, orientation='horizontal')
pb.outline.set_visible(False)
pb.set_ticks([3, 15])
pb.set_ticklabels(['3', '15'])
pax.tick_params(length=0, labelsize=18, pad=6, labelcolor=TXT)
canvas.text(1737, 1710, '-log10 (p)', fontsize=21, ha='center', va='center', color=TXT)

fig.savefig('out.png', dpi=100)
